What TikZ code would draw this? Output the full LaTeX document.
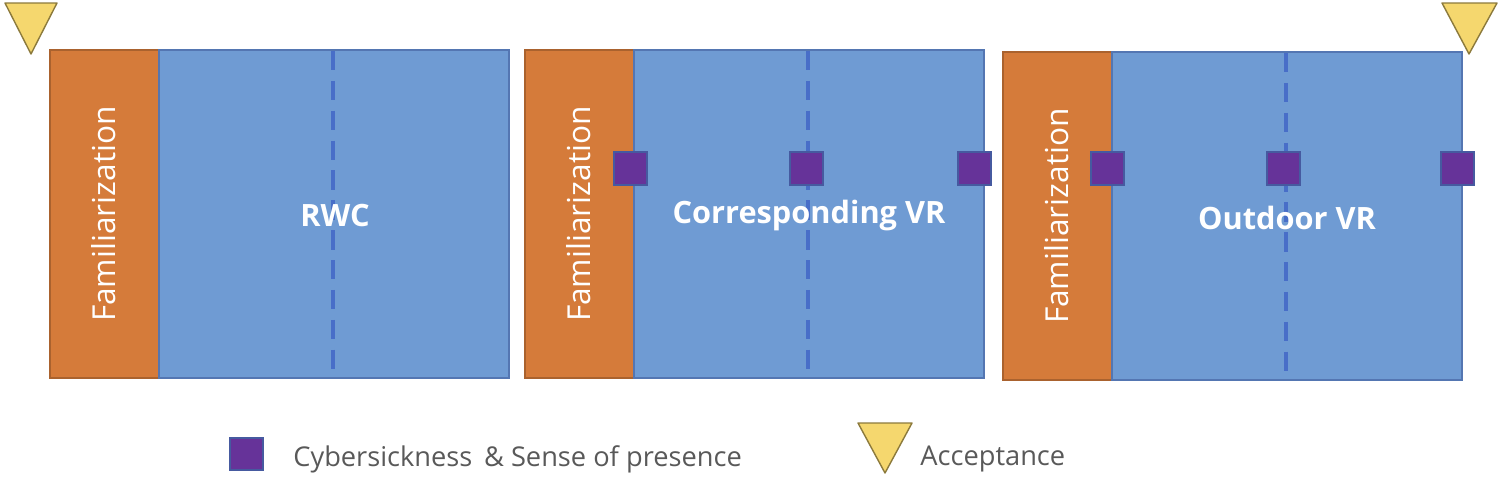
\documentclass[tikz,border=0pt]{standalone}
\usepackage{fontspec}
\setmainfont{Open Sans}
\usepackage{xcolor}

\definecolor{famorange}{RGB}{213,123,58}
\definecolor{condblue}{RGB}{111,155,211}
\definecolor{condedge}{RGB}{84,118,178}
\definecolor{dashblue}{RGB}{72,110,200}
\definecolor{qpurple}{RGB}{102,51,153}
\definecolor{qedge}{RGB}{70,90,160}
\definecolor{accyellow}{RGB}{245,215,110}
\definecolor{accedge}{RGB}{140,122,60}
\definecolor{legendgray}{RGB}{89,89,89}

\begin{document}
\begin{tikzpicture}[x=0.02cm,y=-0.02cm,
  famblock/.style={fill=famorange,draw=famorange!80!black,line width=0.8pt},
  condblock/.style={fill=condblue,draw=condedge,line width=0.8pt},
  halfline/.style={dashblue,line width=2.2pt,dash pattern=on 11pt off 6pt},
  qbox/.style={fill=qpurple,draw=qedge,line width=0.6pt},
  acctri/.style={fill=accyellow,draw=accedge,line width=0.8pt,line join=round},
  famtext/.style={text=white,rotate=90,font=\fontsize{18}{21}\selectfont},
  condtext/.style={text=white,font=\bfseries\fontsize{17.5}{20}\selectfont},
  legendtext/.style={text=legendgray,anchor=west,inner sep=0pt,font=\fontsize{15.5}{18}\selectfont}]

\useasboundingbox (0,0) rectangle (1500,480);

% familiarization blocks:
\draw[famblock] (50,50) rectangle (159,378);
\draw[famblock] (525,50) rectangle (634,378);
\draw[famblock] (1003,52) rectangle (1112,380);

% condition blocks:
\draw[condblock] (159,50) rectangle (509,378);
\draw[condblock] (634,50) rectangle (984,378);
\draw[condblock] (1112,52) rectangle (1462,380);

% halfway lines:
\draw[halfline] (333,51) -- (333,377);
\draw[halfline] (808,51) -- (808,377);
\draw[halfline] (1286,53) -- (1286,379);

% labels:
\path (104,214) node[famtext] (fam1) {Familiarization};
\path (579,214) node[famtext] (fam2) {Familiarization};
\path (1057,216) node[famtext] (fam3) {Familiarization};
\path (335,216) node[condtext] (rwc) {RWC};
\path (809,216) node[condtext] (cvr) {Corresponding VR};
\path (1287,218) node[condtext] (ovr) {Outdoor VR};

% questionnaires:
\draw[qbox] (614,152) rectangle (647,185);
\draw[qbox] (790,152) rectangle (823,185);
\draw[qbox] (958,152) rectangle (991,185);
\draw[qbox] (1091,152) rectangle (1124,185);
\draw[qbox] (1267,152) rectangle (1300,185);
\draw[qbox] (1441,152) rectangle (1474,185);

% acceptance:
\draw[acctri] (5,3) -- (57,3) -- (31,54) -- cycle;
\draw[acctri] (1442,3) -- (1497,3) -- (1469,54) -- cycle;

% legend:
\draw[qbox] (230,438) rectangle (263,470);
\path (293,459) node[legendtext] (lgq) {Cybersickness {\,}\& Sense of presence};
\draw[acctri] (858,423) -- (912,423) -- (885,473) -- cycle;
\path (920,459) node[legendtext] (lga) {Acceptance};

\end{tikzpicture}
\end{document}
